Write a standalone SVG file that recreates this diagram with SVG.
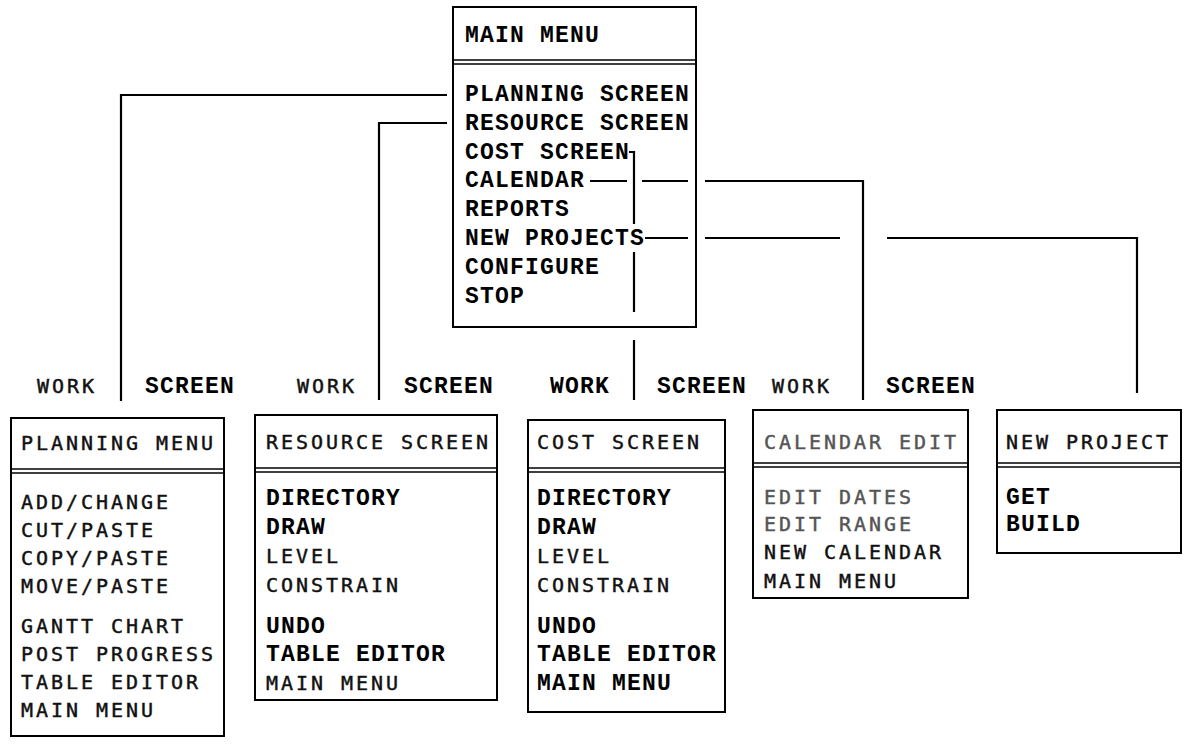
<svg xmlns="http://www.w3.org/2000/svg" width="1184" height="745" viewBox="0 0 1184 745">
<style>
.box{fill:#fff;stroke:#000;stroke-width:2}
.dv{stroke:#000;stroke-width:1.6;fill:none}
.ln{stroke:#000;stroke-width:2.2;fill:none}
.b{font-family:"Liberation Mono",monospace;font-weight:bold;font-size:23px;letter-spacing:1.2px;fill:#000}
.s{font-family:"DejaVu Sans Mono",monospace;font-size:20px;letter-spacing:2.96px;fill:#111;stroke:#111;stroke-width:0.45}
.f{fill:#555;stroke:#555}
</style>
<rect width="1184" height="745" fill="#fff"/>
<g id="main-menu">
<rect class="box" x="453" y="7" width="243" height="320"/>
<line class="dv" x1="453" y1="60" x2="696" y2="60"/>
<line class="dv" x1="453" y1="64" x2="696" y2="64"/>
<text class="b" x="465" y="42">MAIN MENU</text>
<text class="b" x="465" y="101">PLANNING SCREEN</text>
<text class="b" x="465" y="130">RESOURCE SCREEN</text>
<text class="b" x="465" y="158.6">COST SCREEN</text>
<text class="b" x="465" y="187.4">CALENDAR</text>
<text class="b" x="465" y="216.2">REPORTS</text>
<text class="b" x="465" y="245">NEW PROJECTS</text>
<text class="b" x="465" y="273.8">CONFIGURE</text>
<text class="b" x="465" y="302.6">STOP</text>
</g>
<g id="planning-menu">
<rect class="box" x="11" y="418" width="213" height="318"/>
<line class="dv" x1="11" y1="469" x2="224" y2="469"/>
<line class="dv" x1="11" y1="473" x2="224" y2="473"/>
<text class="s" x="21" y="450">PLANNING MENU</text>
<text class="s" x="21" y="509">ADD/CHANGE</text>
<text class="s" x="21" y="537">CUT/PASTE</text>
<text class="s" x="21" y="565">COPY/PASTE</text>
<text class="s" x="21" y="593">MOVE/PASTE</text>
<text class="s" x="21" y="633">GANTT CHART</text>
<text class="s" x="21" y="661">POST PROGRESS</text>
<text class="s" x="21" y="689">TABLE EDITOR</text>
<text class="s" x="21" y="717">MAIN MENU</text>
</g>
<g id="resource-screen">
<rect class="box" x="255" y="415" width="242" height="285"/>
<line class="dv" x1="255" y1="468" x2="497" y2="468"/>
<line class="dv" x1="255" y1="472" x2="497" y2="472"/>
<text class="s" x="266" y="449">RESOURCE SCREEN</text>
<text class="b" x="266" y="505">DIRECTORY</text>
<text class="b" x="266" y="534">DRAW</text>
<text class="s" x="266" y="563">LEVEL</text>
<text class="s" x="266" y="592">CONSTRAIN</text>
<text class="b" x="266" y="633">UNDO</text>
<text class="b" x="266" y="661">TABLE EDITOR</text>
<text class="s" x="266" y="690">MAIN MENU</text>
</g>
<g id="cost-screen">
<rect class="box" x="528" y="420" width="197" height="292"/>
<line class="dv" x1="528" y1="468" x2="725" y2="468"/>
<line class="dv" x1="528" y1="472" x2="725" y2="472"/>
<text class="s" x="537" y="449">COST SCREEN</text>
<text class="b" x="537" y="505">DIRECTORY</text>
<text class="b" x="537" y="534">DRAW</text>
<text class="s" x="537" y="563">LEVEL</text>
<text class="s" x="537" y="592">CONSTRAIN</text>
<text class="b" x="537" y="633">UNDO</text>
<text class="b" x="537" y="661">TABLE EDITOR</text>
<text class="b" x="537" y="690">MAIN MENU</text>
</g>
<g id="calendar-edit">
<rect class="box" x="753" y="410" width="215" height="188"/>
<line class="dv" x1="753" y1="463" x2="968" y2="463"/>
<line class="dv" x1="753" y1="467" x2="968" y2="467"/>
<text class="s f" x="764" y="449">CALENDAR EDIT</text>
<text class="s f" x="764" y="504">EDIT DATES</text>
<text class="s f" x="764" y="531">EDIT RANGE</text>
<text class="s" x="764" y="559">NEW CALENDAR</text>
<text class="s" x="764" y="588">MAIN MENU</text>
</g>
<g id="new-project">
<rect class="box" x="997" y="410" width="184" height="143"/>
<line class="dv" x1="997" y1="463" x2="1181" y2="463"/>
<line class="dv" x1="997" y1="467" x2="1181" y2="467"/>
<text class="s" x="1006" y="449">NEW PROJECT</text>
<text class="b" x="1006" y="504">GET</text>
<text class="b" x="1006" y="531">BUILD</text>
</g>
<g id="labels">
<text class="s" x="37" y="393">WORK</text>
<text class="b" x="145" y="393">SCREEN</text>
<text class="s" x="297" y="393">WORK</text>
<text class="b" x="404" y="393">SCREEN</text>
<text class="b" x="550" y="393">WORK</text>
<text class="b" x="657" y="393">SCREEN</text>
<text class="s" x="772" y="393">WORK</text>
<text class="b" x="886" y="393">SCREEN</text>
</g>
<g id="connectors">
<polyline class="ln" points="447,95 121,95 121,401"/>
<polyline class="ln" points="447,123 379,123 379,400"/>
<polyline class="ln" points="629,152 634,152 634,224"/>
<line class="ln" x1="634" y1="252" x2="634" y2="312"/>
<line class="ln" x1="634" y1="340" x2="634" y2="400"/>
<line class="ln" x1="590" y1="181" x2="627" y2="181"/>
<line class="ln" x1="642" y1="181" x2="688" y2="181"/>
<polyline class="ln" points="705,181 863,181 863,400"/>
<line class="ln" x1="645" y1="238" x2="688" y2="238"/>
<line class="ln" x1="705" y1="238" x2="840" y2="238"/>
<polyline class="ln" points="887,238 1137,238 1137,393"/>
</g>
</svg>
